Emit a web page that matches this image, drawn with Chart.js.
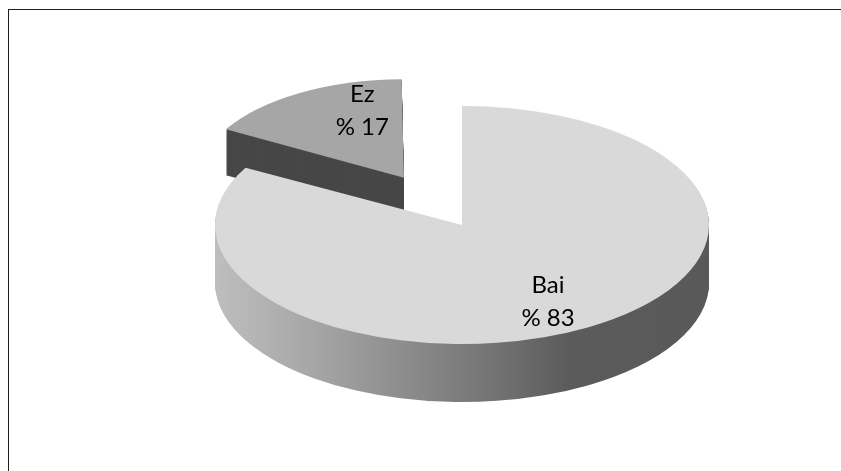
<!DOCTYPE html>
<html>
<head>
<meta charset="utf-8">
<script src="https://cdn.jsdelivr.net/npm/chart.js@4.4.0/dist/chart.umd.min.js"></script>
<style>
  html, body { margin: 0; padding: 0; background: #fff; overflow: hidden; }
  #wrap { position: relative; width: 841px; height: 471px; }
  #frame {
    position: absolute; left: 8px; top: 9px; width: 900px; height: 500px;
    border-left: 1.5px solid #1e1e1e; border-top: 1.5px solid #1e1e1e;
  }
</style>
</head>
<body>
<div id="wrap">
  <canvas id="pie"></canvas>
  <div id="frame"></div>
</div>
<script>
// data
const labels = ['Bai', 'Ez'];
const shares = [83, 17];

// looks
const topColors = ['#d9d9d9', '#a6a6a6'];
const explode = [0, 360];          // Chart.js moves a slice by offset / 4
const R = 150;                      // pie radius before flattening

// where the flattened top face sits on the page
const view = { cx: 462, cy: 225, rx: 247, ry: 119 };
const depth = [58, 46];
const sliceScale = [1, 0.77];       // the far slice looks smaller
const labelFx = [0.684, 0.43];
const labelFy = [0.74, 0.86];

function sideFill(ctx, i, c) {
    if (i === 1) return '#474747';
    const g = ctx.createLinearGradient(c.x - R, 0, c.x + R, 0);
    g.addColorStop(0, '#bebebe');
    g.addColorStop(0.2, '#a6a6a6');
    g.addColorStop(0.4, '#8a8a8a');
    g.addColorStop(0.55, '#757575');
    g.addColorStop(0.72, '#5b5b5b');
    g.addColorStop(1, '#595959');
    return g;
}

function toView(ctx, c, i) {
    const k = sliceScale[i];
    ctx.translate(view.cx, view.cy);
    ctx.scale(view.rx / R * k, view.ry / R * k);
    ctx.translate(-c.x, -c.y);
}

const pie3d = {
    id: 'pie3d',
    beforeDatasetsDraw(chart) {
        const ctx = chart.ctx;
        const arcs = chart.getDatasetMeta(0).data;
        const c = arcs[0];
        // back slice first, front slice covers it
        [1, 0].forEach(i => {
            const arc = arcs[i];
            const side = Object.create(arc);
            side.options = Object.assign({}, arc.options, { backgroundColor: sideFill(ctx, i, c) });
            for (let d = depth[i]; d > 0; d--) {
                ctx.save(); ctx.translate(0, d); toView(ctx, c, i); side.draw(ctx); ctx.restore();
            }
            ctx.save(); toView(ctx, c, i); arc.draw(ctx); ctx.restore();
        });
        return false;
    },
    afterDraw(chart) {
        const ctx = chart.ctx;
        const arcs = chart.getDatasetMeta(0).data;
        const c = arcs[0];
        ctx.save();
        ctx.fillStyle = '#000';
        ctx.font = '24px Lato';
        ctx.textAlign = 'center';
        ctx.textBaseline = 'middle';
        arcs.forEach((arc, i) => {
            const k = sliceScale[i];
            const mid = (arc.startAngle + arc.endAngle) / 2;
            const off = (arc.options.offset || 0) / 4;
            const px = arc.x + Math.cos(mid) * (off + R * labelFx[i]);
            const py = arc.y + Math.sin(mid) * (off + R * labelFy[i]);
            const x = view.cx + (px - c.x) * view.rx / R * k;
            const y = view.cy + (py - c.y) * view.ry / R * k;
            ctx.fillText(labels[i], x, y - 16);
            ctx.fillText('% ' + shares[i], x, y + 17);
        });
        ctx.restore();
    }
};

new Chart(document.getElementById('pie'), {
    type: 'pie',
    data: {
        labels: labels,
        datasets: [{
            data: shares,
            backgroundColor: topColors,
            borderWidth: 0,
            offset: explode
        }]
    },
    options: {
        responsive: true,
        maintainAspectRatio: false,
        animation: false,
        radius: R,
        events: [],
        plugins: { legend: { display: false }, tooltip: { enabled: false } }
    },
    plugins: [pie3d]
});
</script>
</body>
</html>
